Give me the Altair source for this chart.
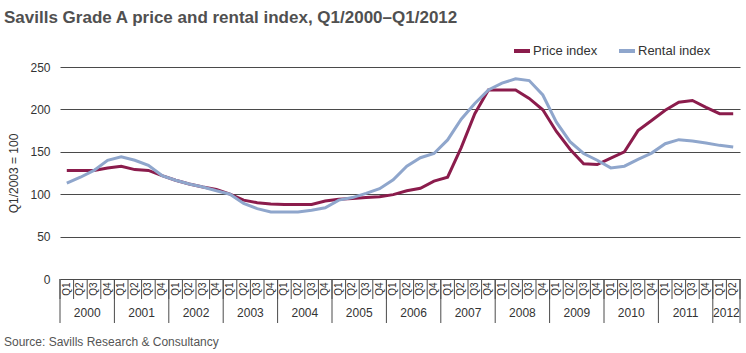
import altair as alt
import pandas as pd

TITLE = "Savills Grade A price and rental index, Q1/2000–Q1/2012"
SOURCE = "Source: Savills Research & Consultancy"

years = ["2000", "2001", "2002", "2003", "2004", "2005", "2006",
         "2007", "2008", "2009", "2010", "2011", "2012"]
quarter_names = ["Q1", "Q2", "Q3", "Q4"]

price = [128, 128, 128, 131, 133, 129, 128, 122,
         116.5, 112, 108.5, 105.5, 100, 93, 90, 88.5,
         88, 88, 88, 92, 94, 95, 96, 97,
         99.5, 104, 107, 115.5, 120, 155, 195, 223,
         223, 223, 213, 199.5, 174, 153, 136, 135,
         142.5, 150, 175, 187, 199, 208.5, 210.5, 202.5,
         195, 195]
rental = [113, 120, 128, 140, 144, 140, 134, 122,
          116.5, 112, 108.5, 104, 100, 89, 83, 79,
          79, 79, 81, 84, 93, 96, 101, 106.5,
          117, 133, 143, 148, 164, 188.5, 207, 223,
          231, 236, 234, 217, 185, 162, 148, 140,
          131, 133, 141, 148.5, 159.5, 164.3, 162.7, 160.4,
          157.6, 155.6]

# quarter list Q1/2000 .. Q2/2012
qlabels, qyears = [], []
for y in years:
    for q in quarter_names:
        if y == "2012" and q in ("Q3", "Q4"):
            continue
        qlabels.append(q)
        qyears.append(y)
n = len(qlabels)
assert n == len(price) == len(rental)

rows = []
for i in range(n):
    rows.append({"i": i, "value": price[i], "series": "Price index"})
    rows.append({"i": i, "value": rental[i], "series": "Rental index"})
lines_df = pd.DataFrame(rows)

q_df = pd.DataFrame({"i": list(range(n)), "q": qlabels})
year_rows = []
for y in years:
    idx = [i for i in range(n) if qyears[i] == y]
    year_rows.append({"c": sum(idx) / len(idx), "year": y})
year_df = pd.DataFrame(year_rows)
qb_df = pd.DataFrame({"b": [k - 0.5 for k in range(n + 1)]})
yb = [k - 0.5 for k in range(n) if qlabels[k] == "Q1"] + [n - 0.5]
yb_df = pd.DataFrame({"b": yb})

W, H = 680, 212
xscale = alt.Scale(domain=[-0.5, n - 0.5], nice=False, zero=False)
ink = "#333333"
rule_col = "#4a4a4a"
FONT = "Liberation Sans"

lines = alt.Chart(lines_df).mark_line(strokeWidth=3).encode(
    x=alt.X("i:Q", scale=xscale, axis=None),
    y=alt.Y("value:Q",
            scale=alt.Scale(domain=[0, 250], nice=False),
            axis=alt.Axis(values=[0, 50, 100, 150, 200, 250], grid=True,
                          gridColor=rule_col, gridWidth=1, domain=False,
                          ticks=False, labelFontSize=12, labelColor=ink,
                          labelFont=FONT, labelPadding=10,
                          title="Q1/2003 = 100", titleFont=FONT,
                          titleFontSize=12, titleFontWeight="normal",
                          titleColor=ink, titleAngle=270, titleX=-47,
                          titleY=H / 2, titleAlign="center",
                          titleBaseline="middle")),
    color=alt.Color("series:N",
                    scale=alt.Scale(domain=["Price index", "Rental index"],
                                    range=["#8b1c4c", "#8fa6cc"]),
                    legend=alt.Legend(title=None, orient="none",
                                      direction="horizontal",
                                      legendX=452, legendY=-26,
                                      symbolType="stroke",
                                      symbolStrokeWidth=4, symbolSize=256,
                                      labelFontSize=13, labelFont=FONT,
                                      labelColor=ink, labelOffset=1,
                                      columnPadding=13)),
)

qtext = alt.Chart(q_df).mark_text(angle=270, fontSize=10, color=ink,
                                  font=FONT, align="center",
                                  baseline="middle").encode(
    x=alt.X("i:Q", scale=xscale, axis=None), y=alt.value(H + 10), text="q:N")

ytext = alt.Chart(year_df).mark_text(fontSize=12, color=ink,
                                     font=FONT, align="center",
                                     baseline="middle").encode(
    x=alt.X("c:Q", scale=xscale, axis=None), y=alt.value(H + 34),
    text="year:N")

qrules = alt.Chart(qb_df).mark_rule(color=rule_col, strokeWidth=1).encode(
    x=alt.X("b:Q", scale=xscale, axis=None), y=alt.value(H),
    y2=alt.value(H + 20))

yrules = alt.Chart(yb_df).mark_rule(color=rule_col, strokeWidth=1).encode(
    x=alt.X("b:Q", scale=xscale, axis=None), y=alt.value(H),
    y2=alt.value(H + 44))

title = alt.Chart(pd.DataFrame({"t": [TITLE]})).mark_text(
    align="left", baseline="alphabetic", font=FONT,
    fontWeight="bold", fontSize=17, color="#505050").encode(
    x=alt.value(-56), y=alt.value(-44), text="t:N")

source = alt.Chart(pd.DataFrame({"t": [SOURCE]})).mark_text(
    align="left", baseline="alphabetic", font=FONT,
    fontSize=12, color="#555555").encode(
    x=alt.value(-56), y=alt.value(279), text="t:N")

chart = alt.layer(qrules, yrules, lines, qtext, ytext, title, source).properties(
    width=W, height=H,
    autosize=alt.AutoSizeParams(type="none"),
    padding={"left": 60, "top": 67, "right": 6, "bottom": 74},
    background="white",
).configure_view(stroke=None)

chart.save("out.html", embed_options={"renderer": "svg", "actions": False})
